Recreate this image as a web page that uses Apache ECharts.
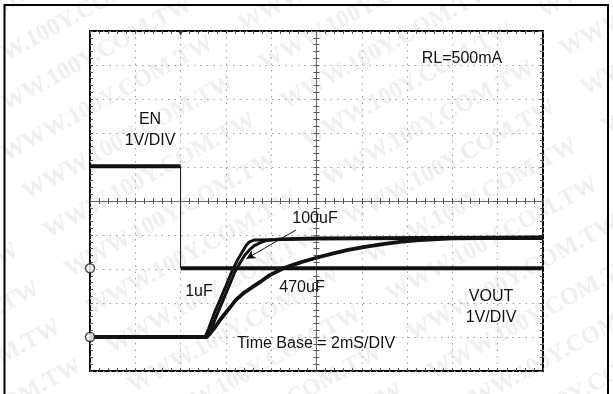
<!DOCTYPE html>
<html>
<head>
<meta charset="utf-8">
<script src="https://cdn.jsdelivr.net/npm/echarts@6/dist/echarts.min.js"></script>
<style>
html,body{margin:0;padding:0;background:#fff;}
#chart{width:613px;height:394px;}
</style>
</head>
<body>
<div id="chart"></div>
<script>
// ---- Data (scope divisions: x 0..10 = 2 ms/div, y 0..10 = 1 V/div) ----
const enTrace = [[0,6.02],[2.0,6.02],[2.0,3.02],[10,3.02]];
const vout1uF = [[0,1.0],[2.54,1.0],[2.62,1.25],[2.75,1.72],[2.87,2.09],[3.0,2.5],[3.13,2.92],[3.25,3.25],[3.35,3.48],[3.45,3.7],[3.52,3.8],[3.62,3.85],[4.0,3.86],[5,3.88],[6,3.89],[7,3.9],[8,3.9],[10,3.9]];
const vout100uF = [[0,1.0],[2.58,1.0],[2.68,1.25],[2.8,1.65],[2.94,2.09],[3.07,2.5],[3.2,2.92],[3.32,3.2],[3.42,3.41],[3.52,3.56],[3.62,3.68],[3.75,3.77],[3.9,3.84],[4.2,3.88],[5,3.91],[10,3.94]];
const vout470uF = [[0,1.0],[2.58,1.0],[2.66,1.12],[2.75,1.27],[2.87,1.5],[3.05,1.8],[3.22,2.09],[3.4,2.3],[3.6,2.48],[3.8,2.66],[3.97,2.82],[4.27,3.02],[4.5,3.13],[4.71,3.22],[5.08,3.36],[5.37,3.46],[5.7,3.56],[6.1,3.66],[6.5,3.74],[6.84,3.8],[7.2,3.84],[7.57,3.87],[8,3.9],[10,3.92]];
const arrow100uF = [[4.55,4.15],[3.45,3.3]];
const groundMarkers = [[0,3.02],[0,1.0]];
const triggerMarker = [[2.0,10]];
const labels = [
  {text:'EN', x:150, y:120},
  {text:'1V/DIV', x:150, y:141},
  {text:'RL=500mA', x:462, y:59},
  {text:'100uF', x:315, y:219},
  {text:'1uF', x:199, y:292},
  {text:'470uF', x:302, y:288},
  {text:'VOUT', x:491, y:297},
  {text:'1V/DIV', x:491, y:318},
  {text:'Time Base = 2mS/DIV', x:316, y:344}
];
const watermarkText = 'WWW.100Y.COM.TW';

const chart = echarts.init(document.getElementById('chart'), null, {renderer:'canvas'});

const G = {left:90, top:31, width:453, height:340};

function tickAxis(position, offset, lineShow){
  return {
    type:'value', min:0, max:10, interval:0.2, position:position, offset:offset,
    axisLine:{show:lineShow, onZero:false, lineStyle:{color:'#6a6a6a', width:1}},
    axisTick:{show:true, inside:true, length:3, lineStyle:{color:'#555', width:1}},
    axisLabel:{show:false}, splitLine:{show:false}
  };
}

const xAxes = [
  {type:'value', min:0, max:10, interval:1, position:'bottom',
   axisLine:{show:false}, axisTick:{show:false}, axisLabel:{show:false},
   splitLine:{show:true, lineStyle:{color:'#a0a0a0', width:1, type:[1.5,5]}}},
  tickAxis('bottom',0,false),
  tickAxis('top',0,false),
  tickAxis('bottom',-170,true),
  tickAxis('top',-170,false)
];
const yAxes = [
  {type:'value', min:0, max:10, interval:1, position:'left',
   axisLine:{show:false}, axisTick:{show:false}, axisLabel:{show:false},
   splitLine:{show:true, lineStyle:{color:'#a0a0a0', width:1, type:[1.5,5]}}},
  tickAxis('left',0,false),
  tickAxis('right',0,false),
  tickAxis('left',-226.5,true),
  tickAxis('right',-226.5,false)
];

function traceSeries(data, width){
  return {type:'line', data:data, xAxisIndex:0, yAxisIndex:0, symbol:'none', connectNulls:false,
    lineStyle:{color:'#111', width:width}, silent:true, animation:false, z:5};
}

// EN: thick noisy levels, thin fast edge
const enLevels = [enTrace[0], enTrace[1], '-', enTrace[2], enTrace[3]];
const enEdge = [enTrace[1], enTrace[2]];

// Watermark tiling (decoration)
const wm = [];
const ang = 0.5;
const dx = Math.cos(ang), dy = -Math.sin(ang);
const nx = Math.sin(ang), ny = Math.cos(ang);
for (let r=-8; r<=14; r++){
  for (let c=-2; c<=4; c++){
    const px = -60 + r*44*nx + c*270*dx;
    const py = 40 + r*44*ny + c*270*dy;
    if (px < -300 || px > 700 || py < -100 || py > 520) continue;
    wm.push({type:'text', x:px, y:py, rotation:ang, z:-10, silent:true,
      style:{text:watermarkText, font:'bold 24px "Liberation Serif"', fill:'#efefef', textAlign:'left', textVerticalAlign:'middle'}});
  }
}

const texts = labels.map(l => ({type:'text', x:l.x, y:l.y, z:100, silent:true,
  style:{text:l.text, font:'16px "Liberation Sans", Arial, sans-serif', fill:'#111', textAlign:'center', textVerticalAlign:'middle'}}));

const option = {
  animation:false,
  backgroundColor:'#fff',
  grid:{left:G.left, top:G.top, width:G.width, height:G.height, show:true, borderColor:'#000', borderWidth:2, backgroundColor:'transparent'},
  xAxis:xAxes,
  yAxis:yAxes,
  series:[
    traceSeries(enLevels, 4),
    traceSeries(enEdge, 1),
    traceSeries(vout470uF, 3.8),
    traceSeries(vout100uF, 3),
    traceSeries(vout1uF, 3),
    {type:'line', data:[], xAxisIndex:0, yAxisIndex:0, symbol:'none',
     markLine:{silent:true, symbol:['none','arrow'], symbolSize:[7,9], label:{show:false},
       lineStyle:{color:'#111', width:1, type:'solid'},
       data:[[{coord:arrow100uF[0]},{coord:arrow100uF[1]}]]}},
    {type:'scatter', data:groundMarkers, xAxisIndex:0, yAxisIndex:0, symbol:'circle', symbolSize:9, clip:false,
     itemStyle:{color:'#fff', borderColor:'#222', borderWidth:1.5}, z:6, silent:true},
    {type:'scatter', data:triggerMarker, xAxisIndex:0, yAxisIndex:0, symbol:'triangle', symbolRotate:180, symbolSize:[6,6], symbolOffset:[0,2], clip:false,
     itemStyle:{color:'#222'}, z:6, silent:true}
  ],
  graphic:[
    ...wm,
    {type:'rect', shape:{x:4.5, y:5, width:603.5, height:420}, z:50, silent:true, style:{fill:'none', stroke:'#000', lineWidth:2}},
    ...texts
  ]
};
chart.setOption(option);
</script>
</body>
</html>
